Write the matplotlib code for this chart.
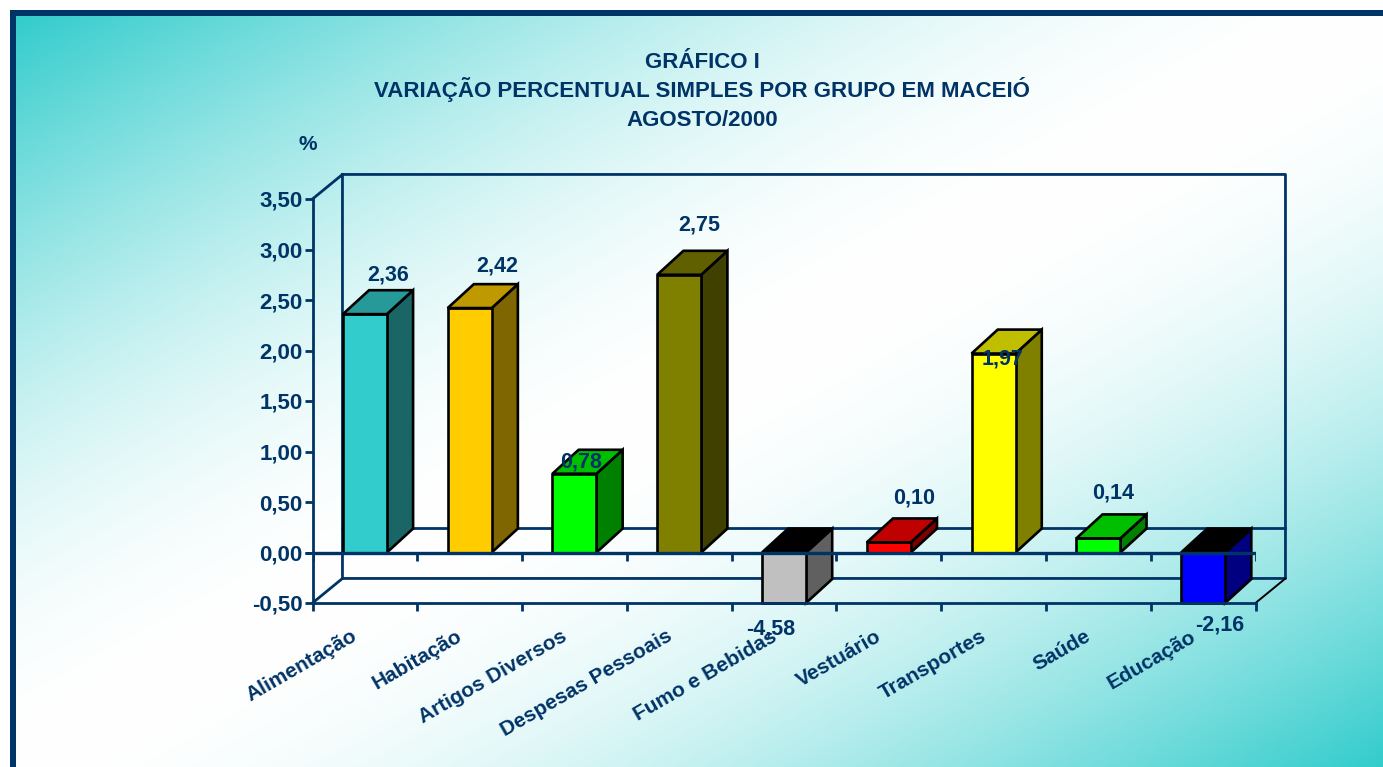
import numpy as np
import matplotlib
matplotlib.use("Agg")
import matplotlib.pyplot as plt
from matplotlib.patches import Polygon
from matplotlib.transforms import ScaledTranslation

W, H = 1383, 767
NAVY = "#003366"

categories = ["Alimentação", "Habitação", "Artigos Diversos", "Despesas Pessoais",
              "Fumo e Bebidas", "Vestuário", "Transportes", "Saúde", "Educação"]
values = [2.36, 2.42, 0.78, 2.75, -4.58, 0.10, 1.97, 0.14, -2.16]
y_ticks = [-0.5, 0, 0.5, 1, 1.5, 2, 2.5, 3, 3.5]
title_lines = ["GRÁFICO I", "VARIAÇÃO PERCENTUAL SIMPLES POR GRUPO EM MACEIÓ", "AGOSTO/2000"]

front_colors = ["#33CCCC", "#FFCC00", "#00FF00", "#808000", "#C0C0C0", "#FF0000", "#FFFF00", "#00FF00", "#0000FF"]
top_colors = ["#269999", "#BF9900", "#00BF00", "#606000", "#000000", "#BF0000", "#BFBF00", "#00BF00", "#000000"]
side_colors = ["#1A6666", "#806600", "#008000", "#404000", "#606060", "#800000", "#808000", "#008000", "#000080"]

# where the value labels sit relative to the bar top, in pixels (x, up)
label_off = [(23, 39), (28, 42), (7, 12), (20, 50), (-13, -26), (25, 44), (9, -5), (15, 45), (17, -22)]

plt.rcParams["font.family"] = ["Liberation Sans", "DejaVu Sans"]
plt.rcParams["font.weight"] = "bold"

fig = plt.figure(figsize=(W / 100, H / 100), dpi=100, facecolor="white")

# background: diagonal gradient teal - white - teal, and the frame
bg = fig.add_axes([0, 0, 1, 1])
bg.axis("off")
yy, xx = np.mgrid[0:1:400j, 0:1:700j]
u = xx + yy
t = np.sin(np.pi / 2 * np.minimum(u, 2 - u))
teal = np.array([0x33, 0xCC, 0xCC]) / 255
grad = teal + (1 - teal) * t[..., None]
bg.imshow(grad, extent=(16, W, H, 16), aspect="auto", zorder=0, interpolation="bilinear")
bg.set_xlim(0, W)
bg.set_ylim(H, 0)
bg.axvspan(10, 16, ymin=0, ymax=1 - 10 / H, color=NAVY, lw=0, zorder=1)
bg.axhspan(10, 16, xmin=10 / W, xmax=1, color=NAVY, lw=0, zorder=1)

for line, py in zip(title_lines, [68, 97, 126]):
    bg.text(702, py, line, color=NAVY, fontsize=16, ha="center", va="baseline", zorder=2)
bg.text(308, 150, "%", color=NAVY, fontsize=15, ha="center", va="baseline", zorder=2)

# plot area
ax = fig.add_axes([312.5 / W, 1 - 603 / H, 943 / W, 404 / H])
ax.patch.set_alpha(0)
ax.set_xlim(-0.5, 8.5)
ax.set_ylim(-0.5, 3.5)

wall_dx, wall_dy = 0.286, 0.243
bar_dx, bar_dy = 0.25, 0.237
bar_w = 0.42
x0, x1 = ax.get_xlim()
y0, y1 = ax.get_ylim()

# back walls and floor
ax.plot([x0, x0 + wall_dx, x1 + wall_dx, x1 + wall_dx, x0 + wall_dx, x0 + wall_dx],
        [y1, y1 + wall_dy, y1 + wall_dy, y0 + wall_dy, y0 + wall_dy, y1 + wall_dy],
        color=NAVY, lw=2, clip_on=False, zorder=1)
ax.plot([x0, x0 + wall_dx], [y0, y0 + wall_dy], color=NAVY, lw=2, clip_on=False, zorder=1)
ax.plot([x0 + wall_dx, x1 + wall_dx], [wall_dy, wall_dy], color=NAVY, lw=2, clip_on=False, zorder=1)
ax.plot([x1, x1 + wall_dx], [y0, y0 + wall_dy], color="black", lw=1.4, clip_on=False, zorder=1)

# fake 3d bars
for i, v in enumerate(values):
    end = max(v, y0)
    l, r = i - bar_w / 2, i + bar_w / 2
    top_y = end if v >= 0 else 0
    front = Polygon([(l, 0), (r, 0), (r, end), (l, end)], fc=front_colors[i], ec="black", lw=1.9, zorder=3, clip_on=False)
    top = Polygon([(l, top_y), (r, top_y), (r + bar_dx, top_y + bar_dy), (l + bar_dx, top_y + bar_dy)],
                  fc=top_colors[i], ec="black", lw=1.9, zorder=3, clip_on=False)
    side = Polygon([(r, 0), (r + bar_dx, bar_dy), (r + bar_dx, end + bar_dy), (r, end)],
                   fc=side_colors[i], ec="black", lw=1.9, zorder=3, clip_on=False)
    ax.add_patch(side)
    ax.add_patch(front)
    ax.add_patch(top)
    ax.annotate(f"{v:.2f}".replace(".", ","), (i, end), xytext=label_off[i], textcoords="offset pixels",
                color=NAVY, fontsize=15.5, ha="center", va="center", zorder=6, annotation_clip=False)

# front axis lines
ax.axhline(0, color=NAVY, lw=2.4, zorder=4)
ax.hlines(0, x0 - 0.075, x0, color=NAVY, lw=2, clip_on=False, zorder=4)
boundaries = np.arange(-0.5, 9, 1)
ax.vlines(boundaries, -0.085, 0, color=NAVY, lw=2, zorder=4)

for s in ["top", "right"]:
    ax.spines[s].set_visible(False)
for s in ["left", "bottom"]:
    ax.spines[s].set_color(NAVY)
    ax.spines[s].set_linewidth(2)
    ax.spines[s].set_zorder(5)

ax.set_yticks(y_ticks)
ax.set_yticklabels([f"{v:.2f}".replace(".", ",") for v in y_ticks], fontsize=16, color=NAVY)
ax.tick_params(axis="y", length=6, width=2, color=NAVY, pad=1)
ax.set_xticks(boundaries)
ax.set_xticklabels([])
ax.tick_params(axis="x", which="major", length=6, width=2, color=NAVY)
ax.set_xticks(range(len(categories)), minor=True)
ax.set_xticklabels(categories, minor=True, rotation=30, ha="right", va="center",
                   rotation_mode="anchor", fontsize=15, color=NAVY)
ax.tick_params(axis="x", which="minor", length=0, pad=23)
shift = ScaledTranslation(-9 / 100, 0, fig.dpi_scale_trans)
for lab in ax.get_xticklabels(minor=True):
    lab.set_transform(lab.get_transform() + shift)

fig.savefig("out.png", dpi=100)
